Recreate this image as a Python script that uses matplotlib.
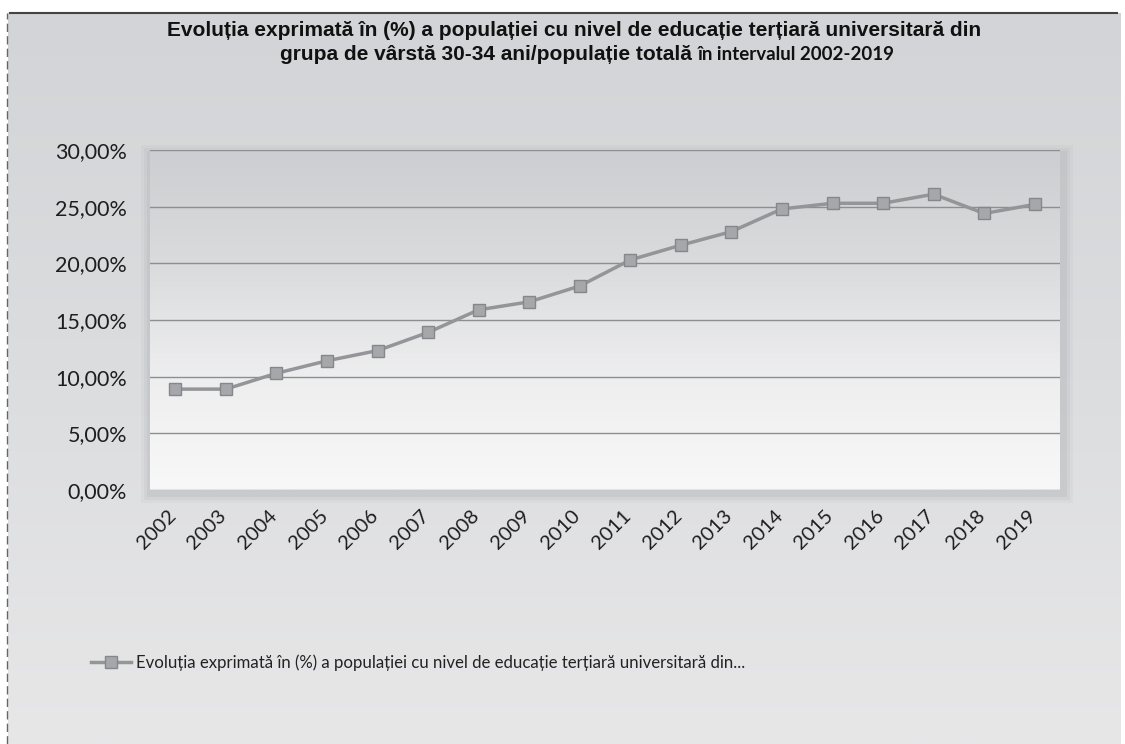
import matplotlib
matplotlib.use("Agg")
import matplotlib.pyplot as plt
import matplotlib.patches as patches
from matplotlib.lines import Line2D
from matplotlib.colors import LinearSegmentedColormap
from matplotlib.transforms import ScaledTranslation
import numpy as np

# valori (%)
ani = ["2002", "2003", "2004", "2005", "2006", "2007", "2008", "2009", "2010",
       "2011", "2012", "2013", "2014", "2015", "2016", "2017", "2018", "2019"]
valori = [8.9, 8.9, 10.3, 11.4, 12.3, 13.9, 15.9, 16.6, 18.0,
          20.3, 21.6, 22.8, 24.8, 25.3, 25.3, 26.1, 24.4, 25.2]
y_ticks = [0, 5, 10, 15, 20, 25, 30]

titlu_1 = "Evoluția exprimată în (%) a populației cu nivel de educație terțiară universitară din"
titlu_2a = "grupa de vârstă 30-34 ani/populație totală"
titlu_2b = "în intervalul 2002-2019"
legenda = "Evoluția exprimată în (%) a populației cu nivel de educație terțiară universitară din..."

W, H = 1125, 744
fig = plt.figure(figsize=(W / 100, H / 100), dpi=100)
fig.patch.set_facecolor("white")

# fundalul scanat al graficului (gri, mai deschis jos)
bg = fig.add_axes([8 / W, 0, 1 - 12 / W, 1 - 13 / H], zorder=-5)
bg_cmap = LinearSegmentedColormap.from_list("bg", ["#d3d4d7", "#dcdddf", "#e7e7e8"])
bg.imshow(np.linspace(0, 1, 256).reshape(-1, 1), cmap=bg_cmap, aspect="auto",
          extent=[0, 1, 0, 1])
bg.set_xlim(0, 1)
bg.set_ylim(0, 1)
bg.axis("off")
fig.add_artist(Line2D([10 / W, 1 - 8 / W], [1 - 13 / H, 1 - 13 / H], color="#444444", lw=1.5))
fig.add_artist(Line2D([7 / W, 7 / W], [0, 1 - 13 / H], color="#666666", lw=1, ls=(0, (6, 3))))

# umbra zonei de reprezentare
for k, a in [(9, 0.10), (6, 0.14), (3, 0.2)]:
    fig.add_artist(patches.Rectangle(((150 - k) / W, 1 - (490 + k + 4) / H),
                                     (910 + 2 * k + 4) / W, (340 + 2 * k) / H,
                                     transform=fig.transFigure, facecolor="#a9aaae",
                                     edgecolor="none", alpha=a, zorder=-3))

ax = fig.add_axes([150 / W, 1 - 490 / H, 910 / W, 340 / H], zorder=1)
x = np.arange(len(ani))
ax.set_xlim(-0.5, len(ani) - 0.5)
ax.set_ylim(0, 30)
plot_cmap = LinearSegmentedColormap.from_list("pa", ["#f8f8f8", "#eeeeef", "#dadbdd", "#cdced1"])
ax.imshow(np.linspace(0, 1, 256).reshape(-1, 1), cmap=plot_cmap, aspect="auto",
          extent=[-0.5, len(ani) - 0.5, 0, 30], origin="lower", zorder=0)
for t in y_ticks:
    ax.axhline(t, color="#8d8e92", lw=1, zorder=1)

ax.plot(x, valori, color="#949598", lw=2.5, marker="s", ms=8,
        mfc="#a6a7aa", mec="#86878b", mew=1, zorder=3, label=legenda)

for s in ax.spines.values():
    s.set_visible(False)
ax.set_yticks(y_ticks)
ax.set_yticklabels([f"{v:.2f}%".replace(".", ",") for v in y_ticks],
                   fontfamily="Lato", fontsize=15.5, color="#1e1e1e")
ax.set_xticks(x)
ax.set_xticklabels(ani, rotation=45, ha="right", rotation_mode="anchor",
                   fontfamily="Lato", fontsize=14.5, color="#1e1e1e")
ax.tick_params(axis="both", length=0)
ax.tick_params(axis="y", pad=16.5)
ax.tick_params(axis="x", pad=12)
for lab in ax.get_xticklabels():
    lab.set_transform(lab.get_transform() + ScaledTranslation(-8 / 100, 0, fig.dpi_scale_trans))

# titlul
fig.text(574 / W, 1 - 31 / H, titlu_1, ha="center", va="center",
         fontfamily="Liberation Sans", fontweight="bold", fontsize=15, color="#111111")
fig.text(692 / W, 1 - 54 / H, titlu_2a, ha="right", va="center",
         fontfamily="Liberation Sans", fontweight="bold", fontsize=15, color="#111111")
fig.text(698 / W, 1 - 55 / H, titlu_2b, ha="left", va="center",
         fontfamily="Lato", fontweight="bold", fontsize=13.5, color="#111111")

ax.legend(loc="center left", bbox_to_anchor=(76 / W, 1 - 663 / H),
          bbox_transform=fig.transFigure, frameon=False, handlelength=2.4,
          handletextpad=0.3, prop={"family": "Lato", "size": 12.1},
          labelcolor="#222222")

fig.savefig("out.png", dpi=100)
